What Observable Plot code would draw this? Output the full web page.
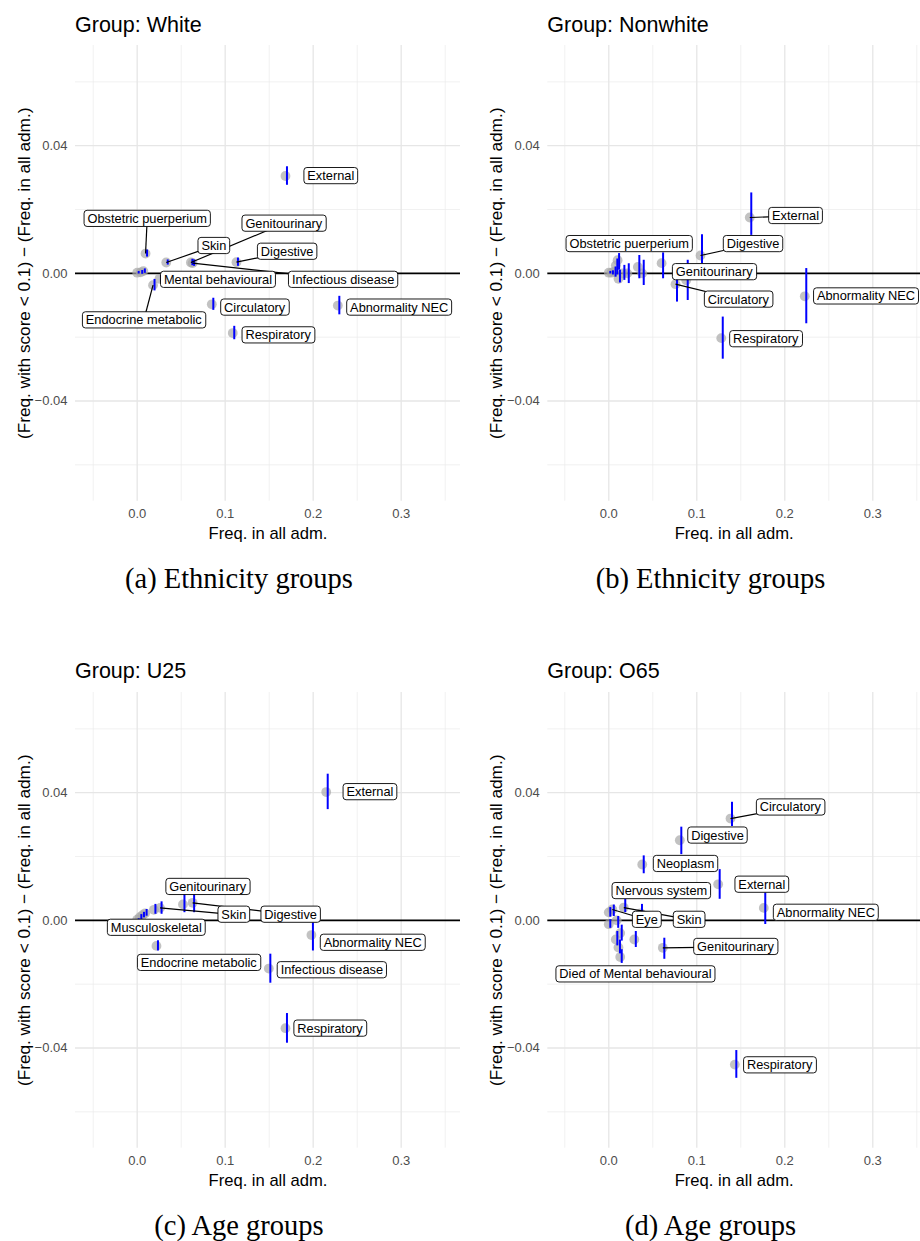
<!DOCTYPE html>
<html>
<head>
<meta charset="utf-8">
<script src="https://cdn.jsdelivr.net/npm/d3@7"></script>
<script src="https://cdn.jsdelivr.net/npm/@observablehq/plot@0.6"></script>
<style>
  html, body { margin: 0; padding: 0; background: #fff; }
  #root { position: relative; width: 920px; height: 1241px; overflow: hidden; font-family: "Liberation Sans", Arial, sans-serif; }
</style>
</head>
<body>
<div id="root"></div>
<script>
// ---------- axis ticks / grid ----------
const xMajor = [0, 0.1, 0.2, 0.3];
const xMinor = [-0.05, 0.05, 0.15, 0.25, 0.35];
const yMajor = [-0.04, 0.04];
const yMinor = [-0.06, -0.02, 0.02, 0.06];
const yTickLabels = [-0.04, 0, 0.04];

// ---------- (a) Group: White ----------
const whiteName = ["", "", "", "Obstetric puerperium", "Skin", "Genitourinary", "Infectious disease", "Digestive", "Mental behavioural", "Endocrine metabolic", "Circulatory", "Respiratory", "Abnormality NEC", "External"];
const whiteX  = [0.000, 0.004, 0.007, 0.0095, 0.033, 0.061, 0.063, 0.1128, 0.0253, 0.018, 0.0848, 0.1086, 0.228, 0.1685];
const whiteY  = [0.0002, 0.0003, 0.0007, 0.0062, 0.0034, 0.0034, 0.0032, 0.0035, -0.0017, -0.0037, -0.0097, -0.0187, -0.0101, 0.0305];
const whiteLo = [-0.0002, -0.0003, 0.0000, 0.0051, 0.0026, 0.0024, 0.0022, 0.0022, -0.0028, -0.0055, -0.0116, -0.0208, -0.0130, 0.0276];
const whiteHi = [0.0006, 0.0009, 0.0014, 0.0073, 0.0042, 0.0044, 0.0042, 0.0048, -0.0006, -0.0019, -0.0078, -0.0166, -0.0072, 0.0334];
const whiteLabelX = [null, null, null, 0.0114, 0.0871, 0.1666, 0.2340, 0.1704, 0.0918, 0.0075, 0.1335, 0.1602, 0.2977, 0.2200];
const whiteLabelY = [null, null, null, 0.0171, 0.0086, 0.0156, -0.0020, 0.0068, -0.0020, -0.0147, -0.0107, -0.0194, -0.0107, 0.0305];
const whiteLink   = [0, 0, 0, 1, 1, 1, 1, 1, 0, 1, 0, 0, 0, 0];

// ---------- (b) Group: Nonwhite ----------
const nonwhiteName = ["", "", "", "", "Obstetric puerperium", "", "", "", "", "", "Genitourinary", "Circulatory", "", "Digestive", "External", "Respiratory", "Abnormality NEC"];
const nonwhiteX  = [0.000, 0.003, 0.006, 0.008, 0.010, 0.011, 0.016, 0.021, 0.033, 0.038, 0.060, 0.0758, 0.088, 0.1042, 0.1602, 0.1278, 0.2227];
const nonwhiteY  = [0.0002, 0.0002, 0.0005, 0.0025, 0.0041, -0.0017, 0.0000, 0.0000, 0.0020, 0.0000, 0.0032, -0.0034, -0.0022, 0.0056, 0.0175, -0.0203, -0.0072];
const nonwhiteLo = [-0.0002, -0.0005, -0.0012, -0.0005, 0.0010, -0.0030, -0.0022, -0.0032, -0.0017, -0.0038, -0.0017, -0.0090, -0.0085, 0.0030, 0.0119, -0.0269, -0.0158];
const nonwhiteHi = [0.0006, 0.0008, 0.0020, 0.0045, 0.0062, 0.0010, 0.0025, 0.0030, 0.0056, 0.0041, 0.0064, 0.0022, 0.0041, 0.0121, 0.0252, -0.0137, 0.0015];
const nonwhiteLabelX = [null, null, null, null, 0.0232, null, null, null, null, null, 0.1198, 0.1472, null, 0.1639, 0.2122, 0.1784, 0.2923];
const nonwhiteLabelY = [null, null, null, null, 0.0092, null, null, null, null, null, 0.0004, -0.0082, null, 0.0092, 0.0180, -0.0206, -0.0072];
const nonwhiteLink   = [0, 0, 0, 0, 0, 0, 0, 0, 0, 0, 0, 1, 0, 1, 1, 0, 0];

// ---------- (c) Group: U25 ----------
const u25Name = ["", "", "", "Musculoskeletal", "", "Skin", "Genitourinary", "Digestive", "Endocrine metabolic", "Infectious disease", "Abnormality NEC", "Respiratory", "External"];
const u25X  = [0.000, 0.003, 0.006, 0.009, 0.019, 0.026, 0.052, 0.063, 0.0219, 0.1496, 0.198, 0.1685, 0.2148];
const u25Y  = [0.0002, 0.0010, 0.0016, 0.0022, 0.0033, 0.0039, 0.0050, 0.0055, -0.0080, -0.0151, -0.0046, -0.0338, 0.0402];
const u25Lo = [-0.0001, 0.0002, 0.0008, 0.0013, 0.0019, 0.0019, 0.0024, 0.0024, -0.0096, -0.0197, -0.0096, -0.0385, 0.0347];
const u25Hi = [0.0005, 0.0018, 0.0025, 0.0034, 0.0050, 0.0058, 0.0081, 0.0081, -0.0064, -0.0106, -0.0008, -0.0292, 0.0458];
const u25LabelX = [null, null, null, 0.0217, null, 0.1098, 0.0801, 0.1744, 0.0700, 0.2212, 0.2677, 0.2191, 0.2645];
const u25LabelY = [null, null, null, -0.0023, null, 0.0018, 0.0105, 0.0018, -0.0133, -0.0156, -0.0070, -0.0339, 0.0402];
const u25Link   = [0, 0, 0, 0, 0, 1, 0, 1, 0, 0, 0, 0, 0];

// ---------- (d) Group: O65 ----------
const o65Name = ["", "", "Eye", "", "Skin", "Nervous system", "", "", "", "", "Died of Mental behavioural", "Genitourinary", "Neoplasm", "Digestive", "Circulatory", "External", "Abnormality NEC", "Respiratory"];
const o65X  = [0.000, 0.000, 0.004, 0.009, 0.017, 0.036, 0.029, 0.008, 0.013, 0.011, 0.013, 0.0614, 0.038, 0.0807, 0.1383, 0.1243, 0.1761, 0.1432];
const o65Y  = [0.0025, -0.0012, 0.0034, 0.0000, 0.0040, 0.0022, -0.0060, -0.0060, -0.0040, -0.0085, -0.0115, -0.0086, 0.0175, 0.0251, 0.0319, 0.0113, 0.0039, -0.0452];
const o65Lo = [0.0010, -0.0025, 0.0012, -0.0025, 0.0024, 0.0003, -0.0085, -0.0080, -0.0065, -0.0105, -0.0135, -0.0122, 0.0146, 0.0206, 0.0294, 0.0066, -0.0013, -0.0495];
const o65Hi = [0.0040, 0.0002, 0.0048, 0.0012, 0.0066, 0.0050, -0.0035, -0.0035, -0.0015, -0.0062, -0.0092, -0.0056, 0.0202, 0.0292, 0.0370, 0.0159, 0.0086, -0.0408];
const o65LabelX = [null, null, 0.0432, null, 0.0913, 0.0597, null, null, null, null, 0.0303, 0.1440, 0.0872, 0.1235, 0.2063, 0.1739, 0.2466, 0.1942];
const o65LabelY = [null, null, 0.0002, null, 0.0002, 0.0092, null, null, null, null, -0.0169, -0.0083, 0.0177, 0.0266, 0.0354, 0.0112, 0.0024, -0.0454];
const o65Link   = [0, 0, 1, 0, 1, 0, 0, 0, 0, 0, 0, 1, 0, 0, 1, 0, 0, 0];

const panelTitles = ["Group: White", "Group: Nonwhite", "Group: U25", "Group: O65"];
const panelCaptions = ["(a) Ethnicity groups", "(b) Ethnicity groups", "(c) Age groups", "(d) Age groups"];
const xLabel = "Freq. in all adm.";
const yLabel = "(Freq. with score < 0.1) \u2212 (Freq. in all adm.)";

const panels = [
  {names: whiteName, x: whiteX, y: whiteY, lo: whiteLo, hi: whiteHi, lx: whiteLabelX, ly: whiteLabelY, link: whiteLink, col: 0, row: 0},
  {names: nonwhiteName, x: nonwhiteX, y: nonwhiteY, lo: nonwhiteLo, hi: nonwhiteHi, lx: nonwhiteLabelX, ly: nonwhiteLabelY, link: nonwhiteLink, col: 1, row: 0},
  {names: u25Name, x: u25X, y: u25Y, lo: u25Lo, hi: u25Hi, lx: u25LabelX, ly: u25LabelY, link: u25Link, col: 0, row: 1},
  {names: o65Name, x: o65X, y: o65Y, lo: o65Lo, hi: o65Hi, lx: o65LabelX, ly: o65LabelY, link: o65Link, col: 1, row: 1}
];

// ---------- layout ----------
const colLeft = [0, 460];
const colMarginLeft = [75, 87.3];
const colDomain = [[-0.0701, 0.3674], [-0.0693, 0.3542]];
const colCaptionX = [239, 710.5];
const rowTop = [40, 686.6];
const rowTitleBase = [31.5, 678.1];
const rowCaptionBase = [588.3, 1235];

const root = document.getElementById("root");
const FONT = "'Liberation Sans', Arial, sans-serif";

panels.forEach((p, k) => {
  const c = p.col, r = p.row;
  const rows = p.x.map((x, i) => ({x, y: p.y[i], lo: p.lo[i], hi: p.hi[i], name: p.names[i], lx: p.lx[i], ly: p.ly[i], link: p.link[i]}));
  const labelled = rows.filter(d => d.name);
  const linked = labelled.filter(d => d.link);

  const chart = Plot.plot({
    width: 460,
    height: 520,
    marginTop: 5,
    marginLeft: colMarginLeft[c],
    marginRight: 0,
    marginBottom: 59.3,
    style: {fontFamily: FONT, background: "transparent", overflow: "visible"},
    x: {domain: colDomain[c]},
    y: {domain: [-0.0714, 0.0714]},
    marks: [
      Plot.ruleX(xMinor, {stroke: "#ebebeb", strokeWidth: 0.7}),
      Plot.ruleY(yMinor, {stroke: "#ebebeb", strokeWidth: 0.7}),
      Plot.ruleX(xMajor, {stroke: "#e6e6e6", strokeWidth: 1.3}),
      Plot.ruleY(yMajor, {stroke: "#e6e6e6", strokeWidth: 1.3}),
      Plot.ruleY([0], {stroke: "black", strokeWidth: 1.6}),
      Plot.dot(rows, {x: "x", y: "y", r: 4.9, fill: "#a8a8a8", fillOpacity: 0.7, stroke: null}),
      Plot.ruleX(rows, {x: "x", y1: "lo", y2: "hi", stroke: "#0000ff", strokeWidth: 2, dx: 1.5}),
      Plot.link(linked, {x1: "x", y1: "y", x2: "lx", y2: "ly", stroke: "black", strokeWidth: 1.2}),
      Plot.text(labelled, {x: "lx", y: "ly", text: "name", fontSize: 12.8, fill: "black", className: "lbl"}),
      Plot.axisX({ticks: xMajor, tickSize: 0, tickPadding: 8, fontSize: 13, fill: "#4d4d4d",
        tickFormat: d3.format(".1f"), label: xLabel, labelAnchor: "center", labelArrow: "none", labelOffset: 37.6}),
      Plot.axisY({ticks: yTickLabels, tickSize: 0, tickPadding: 8, fontSize: 13, fill: "#4d4d4d",
        tickFormat: d3.format(".2f"), label: yLabel, labelAnchor: "center", labelArrow: "none", labelOffset: 58})
    ]
  });
  chart.style.position = "absolute";
  chart.style.left = colLeft[c] + "px";
  chart.style.top = rowTop[r] + "px";
  chart.style.maxWidth = "none";
  root.appendChild(chart);

  const sel = d3.select(chart);
  sel.selectAll('g[aria-label="x-axis label"] text').attr("fill", "black").style("font-size", "16.6px");
  sel.selectAll('g[aria-label="y-axis label"] text').attr("fill", "black").style("font-size", "17.2px");

  // label boxes (geom_label style)
  sel.selectAll("g.lbl text").each(function () {
    const t = this;
    const b = t.getBBox();
    const rect = d3.select(t.parentNode).insert("rect", () => t)
      .attr("x", b.x - 3.4).attr("y", b.y - 0.6)
      .attr("width", b.width + 6.8).attr("height", b.height + 1.2)
      .attr("rx", 3).attr("ry", 3)
      .attr("fill", "white").attr("stroke", "black").attr("stroke-width", 0.9);
    const tr = t.getAttribute("transform");
    if (tr) rect.attr("transform", tr);
  });
});

// titles and captions
const overlay = d3.select(root).append("svg")
  .attr("width", 920).attr("height", 1241)
  .style("position", "absolute").style("left", "0px").style("top", "0px")
  .style("pointer-events", "none");

panels.forEach((p, k) => {
  const c = p.col, r = p.row;
  overlay.append("text")
    .attr("x", colLeft[c] + colMarginLeft[c]).attr("y", rowTitleBase[r])
    .attr("font-family", FONT).attr("font-size", 21.5).attr("fill", "black")
    .text(panelTitles[k]);
  overlay.append("text")
    .attr("x", colCaptionX[c]).attr("y", rowCaptionBase[r])
    .attr("text-anchor", "middle")
    .attr("font-family", "'Liberation Serif', 'Times New Roman', serif").attr("font-size", 28.5).attr("fill", "black")
    .text(panelCaptions[k]);
});
</script>
</body>
</html>
